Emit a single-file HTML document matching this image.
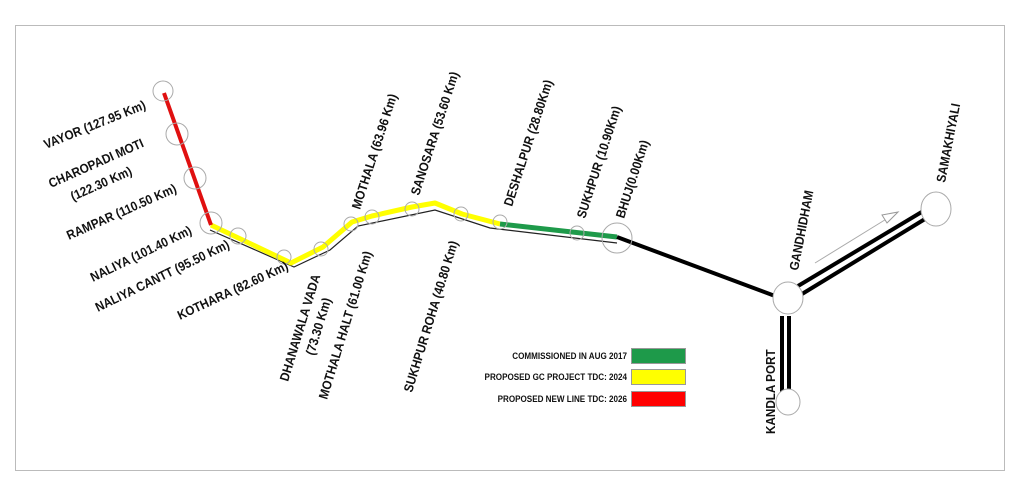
<!DOCTYPE html>
<html><head><style>
html,body{margin:0;padding:0;background:#fff;}
svg{display:block;}
text{font-family:"Liberation Sans",Arial,sans-serif;font-weight:bold;font-size:13px;fill:#111;}
.lg{font-size:9px;}
</style></head><body>
<svg width="1024" height="491" viewBox="0 0 1024 491">
<rect x="15.5" y="25.5" width="989" height="445" fill="none" stroke="#bbb" stroke-width="1"/>
<polyline points="210,230 294,267 330,250 358,226 435,210 490,228 617,243" fill="none" stroke="#222" stroke-width="1.2"/>
<polyline points="211,225 291,263 323,247 352,222 372,216 412,207 435,203 462,214 500,224" fill="none" stroke="#ffff00" stroke-width="5" stroke-linejoin="round"/>
<line x1="500" y1="224" x2="617" y2="237" stroke="#1e9a4a" stroke-width="5"/>
<line x1="164" y1="93" x2="211" y2="225" stroke="#e01010" stroke-width="4"/>
<line x1="617" y1="237" x2="775" y2="296" stroke="#000" stroke-width="4"/>
<line x1="798" y1="286" x2="925" y2="210" stroke="#000" stroke-width="4"/>
<line x1="802" y1="294" x2="925" y2="219" stroke="#000" stroke-width="4"/>
<line x1="782" y1="316" x2="782" y2="392" stroke="#000" stroke-width="4"/>
<line x1="789" y1="316" x2="789" y2="392" stroke="#000" stroke-width="4"/>
<line x1="815" y1="263" x2="888" y2="218" stroke="#aaa" stroke-width="1"/>
<polygon points="898,212 882,215 887,223" fill="#fff" stroke="#999" stroke-width="1"/>
<g fill="none" stroke="#aaa" stroke-width="1">
<circle cx="163" cy="91" r="10"/>
<circle cx="177" cy="134" r="11"/>
<circle cx="195" cy="178" r="11"/>
<circle cx="211" cy="223" r="11"/>
<circle cx="238" cy="236" r="8"/>
<circle cx="284" cy="257" r="7"/>
<circle cx="321" cy="249" r="7"/>
<circle cx="351" cy="224" r="7"/>
<circle cx="372" cy="217" r="7"/>
<circle cx="412" cy="209" r="7"/>
<circle cx="461" cy="214" r="7"/>
<circle cx="500" cy="222" r="7"/>
<circle cx="577" cy="233" r="7"/>
<circle cx="617" cy="238" r="15"/>
</g>
<g fill="#fff" stroke="#aaa" stroke-width="1">
<ellipse cx="788" cy="298" rx="15" ry="16"/>
<ellipse cx="936" cy="209" rx="15" ry="17"/>
<ellipse cx="788" cy="402" rx="12" ry="13"/>
</g>
<text transform="translate(46,149) rotate(-22) scale(0.9,1)">VAYOR (127.95 Km)</text>
<text transform="translate(51,188) rotate(-24) scale(0.9,1)">CHAROPADI MOTI</text>
<text transform="translate(73,201) rotate(-24) scale(0.9,1)">(122.30 Km)</text>
<text transform="translate(69,240) rotate(-24) scale(0.9,1)">RAMPAR (110.50 Km)</text>
<text transform="translate(93,282) rotate(-26) scale(0.9,1)">NALIYA (101.40 Km)</text>
<text transform="translate(98,312) rotate(-26) scale(0.9,1)">NALIYA CANTT (95.50 Km)</text>
<text transform="translate(180,320) rotate(-25) scale(0.9,1)">KOTHARA (82.60 Km)</text>
<text transform="translate(288,382) rotate(-73) scale(0.9,1)">DHANAWALA VADA</text>
<text transform="translate(314,356) rotate(-73) scale(0.9,1)">(73.30 Km)</text>
<text transform="translate(327,400) rotate(-73) scale(0.9,1)">MOTHALA HALT (61.00 Km)</text>
<text transform="translate(412,393) rotate(-73) scale(0.9,1)">SUKHPUR ROHA (40.80 Km)</text>
<text transform="translate(360,210) rotate(-72) scale(0.9,1)">MOTHALA (63.96 Km)</text>
<text transform="translate(419,196) rotate(-72) scale(0.9,1)">SANOSARA (53.60 Km)</text>
<text transform="translate(512,207) rotate(-72) scale(0.9,1)">DESHALPUR (28.80Km)</text>
<text transform="translate(585,219) rotate(-72) scale(0.9,1)">SUKHPUR (10.90Km)</text>
<text transform="translate(624,219) rotate(-72) scale(0.9,1)">BHUJ(0.00Km)</text>
<text transform="translate(798,271) rotate(-79) scale(0.9,1)">GANDHIDHAM</text>
<text transform="translate(945,183) rotate(-79) scale(0.9,1)">SAMAKHIYALI</text>
<text transform="translate(775,434) rotate(-90) scale(0.9,1)">KANDLA PORT</text>
<text class="lg" transform="translate(627,359) scale(0.9,1)" text-anchor="end">COMMISSIONED IN AUG 2017</text>
<text class="lg" transform="translate(627,380) scale(0.9,1)" text-anchor="end">PROPOSED GC PROJECT TDC: 2024</text>
<text class="lg" transform="translate(627,402) scale(0.9,1)" text-anchor="end">PROPOSED NEW LINE TDC: 2026</text>
<rect x="631.5" y="348.5" width="54" height="15" fill="#1e9a4a" stroke="#999"/>
<rect x="631.5" y="369.5" width="54" height="15" fill="#ffff00" stroke="#999"/>
<rect x="631.5" y="391.5" width="54" height="15" fill="#ff0000" stroke="#999"/>
</svg>
</body></html>
